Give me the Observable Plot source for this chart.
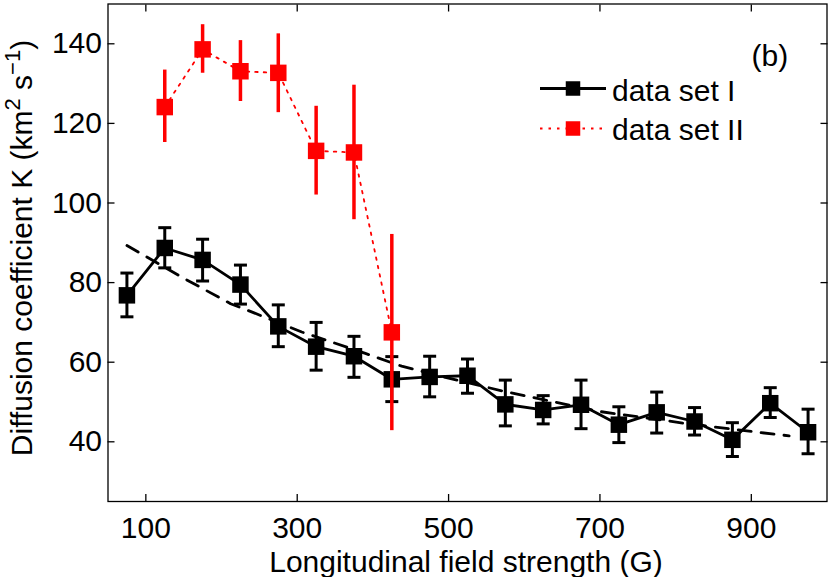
<!DOCTYPE html>
<html><head><meta charset="utf-8">
<script src="https://cdn.jsdelivr.net/npm/d3@7"></script>
<script src="https://cdn.jsdelivr.net/npm/@observablehq/plot@0.6"></script>
<style>body{margin:0;background:#fff;} svg{display:block;}</style>
</head><body><div id="chart"></div>
<script>
// data set I
const fieldI = [75,125,175,225,275,325,375,425,475,525,575,625,675,725,775,825,875,925,975];
const kI   = [76.8,88.7,85.7,79.5,69.0,63.9,61.5,55.7,56.3,56.6,49.4,48.0,49.3,44.3,47.4,45.1,40.5,49.7,42.4];
const kIlo = [71.4,83.7,80.4,74.6,63.9,58.0,56.2,50.1,51.3,52.2,44.0,44.5,43.3,39.8,42.2,41.7,36.3,46.1,37.0];
const kIhi = [82.4,93.8,90.9,84.4,74.4,70.0,66.5,61.4,61.5,60.8,55.5,51.6,55.5,48.8,52.5,48.6,44.8,53.6,48.2];
// data set II
const fieldII = [125,175,225,275,325,375,425];
const kII   = [124.1,138.6,133.1,132.7,113.1,112.7,67.5];
const kIIlo = [115.2,132.6,125.5,122.7,102.0,95.8,42.8];
const kIIhi = [133.4,144.8,140.8,142.5,124.3,129.6,92.1];
// dashed fit curve
const fitField = [75,150,212,243,306,390,438,500,575,700,810,913,950];
const fitK     = [89.3,81.1,74.7,72.4,67.6,62.2,59.0,56.0,52.6,47.6,44.7,42.3,41.5];
// ticks
const xTicks = [100,300,500,700,900];
const yTicks = [40,60,80,100,120,140];

const dataI = fieldI.map((f,i)=>({f, k:kI[i], lo:kIlo[i], hi:kIhi[i]}));
const dataII = fieldII.map((f,i)=>({f, k:kII[i], lo:kIIlo[i], hi:kIIhi[i]}));
const fit = fitField.map((f,i)=>({f, k:fitK[i]}));

const capSymbol = { draw(ctx, size){ const r = Math.sqrt(size/Math.PI); ctx.moveTo(-r,0); ctx.lineTo(r,0); } };
const FONT = "'Liberation Sans', Arial, Helvetica, sans-serif";
const FS = 30;
const RED = "#ff0000";

const svg = Plot.plot({
  width: 830, height: 577,
  marginLeft: 107.5, marginRight: 3.5, marginTop: 3.5, marginBottom: 76,
  style: {fontFamily: FONT, fontSize: FS + "px", color: "black", background: "white", overflow: "visible"},
  x: {domain: [50, 1000]},
  y: {domain: [25, 150]},
  marks: [
    Plot.axisX(xTicks, {anchor: "bottom", tickSize: -7, tickPadding: 22, label: null, fontSize: FS, strokeWidth: 1.3}),
    Plot.axisX(xTicks, {anchor: "top", tickSize: -7, tickFormat: () => "", label: null, strokeWidth: 1.3}),
    Plot.axisY(yTicks, {anchor: "left", tickSize: -7, tickPadding: 13, label: null, fontSize: FS, strokeWidth: 1.3}),
    Plot.axisY(yTicks, {anchor: "right", tickSize: -7, tickFormat: () => "", label: null, strokeWidth: 1.3}),
    Plot.frame({stroke: "black", strokeWidth: 1.3}),
    Plot.line(fit, {x: "f", y: "k", stroke: "black", strokeWidth: 2.8, strokeDasharray: "13,10"}),
    Plot.line(dataI, {x: "f", y: "k", stroke: "black", strokeWidth: 2.8}),
    Plot.ruleX(dataI, {x: "f", y1: "lo", y2: "hi", stroke: "black", strokeWidth: 3}),
    Plot.dot(dataI, {x: "f", y: "lo", symbol: capSymbol, r: 6.5, stroke: "black", strokeWidth: 3, fill: "none"}),
    Plot.dot(dataI, {x: "f", y: "hi", symbol: capSymbol, r: 6.5, stroke: "black", strokeWidth: 3, fill: "none"}),
    Plot.dot(dataI, {x: "f", y: "k", symbol: "square", r: 9.3, fill: "black", stroke: "none"}),
    Plot.line(dataII, {x: "f", y: "k", stroke: RED, strokeWidth: 1.8, strokeDasharray: "2.5,6"}),
    Plot.ruleX(dataII, {x: "f", y1: "lo", y2: "hi", stroke: RED, strokeWidth: 3.5}),
    Plot.dot(dataII, {x: "f", y: "k", symbol: "square", r: 9.3, fill: RED, stroke: "none"})
  ]
});

const s = d3.select(svg);
// axis labels
s.append("text").attr("x", 466).attr("y", 571.5).attr("text-anchor", "middle")
  .attr("fill", "black").style("font-size", FS + "px").style("font-family", FONT)
  .text("Longitudinal field strength (G)");
const yl = s.append("text").attr("transform", "translate(32,248) rotate(-90)")
  .attr("text-anchor", "middle").attr("fill", "black")
  .style("font-size", FS + "px").style("font-family", FONT);
yl.append("tspan").text("Diffusion coefficient K (km");
yl.append("tspan").attr("dy", -12).style("font-size", "22px").text("2");
yl.append("tspan").attr("dy", 12).text(" s");
yl.append("tspan").attr("dy", -12).style("font-size", "22px").text("\u22121");
yl.append("tspan").attr("dy", 12).text(")");
// panel tag
s.append("text").attr("x", 751.5).attr("y", 65.5).attr("text-anchor", "start").attr("fill", "black")
  .style("font-size", FS + "px").style("font-family", FONT).text("(b)");
// legend
const lg = s.append("g").attr("text-anchor", "start").style("font-family", FONT).style("font-size", FS + "px");
lg.append("line").attr("x1", 540).attr("x2", 606).attr("y1", 88.5).attr("y2", 88.5)
  .attr("stroke", "black").attr("stroke-width", 3);
lg.append("rect").attr("x", 573 - 7.25).attr("y", 88.5 - 7.25).attr("width", 14.5).attr("height", 14.5).attr("fill", "black");
lg.append("text").attr("x", 612).attr("y", 100.5).attr("fill", "black").text("data set I");
lg.append("line").attr("x1", 540).attr("x2", 606).attr("y1", 128.5).attr("y2", 128.5)
  .attr("stroke", RED).attr("stroke-width", 1.8).attr("stroke-dasharray", "2.5,6");
lg.append("rect").attr("x", 573 - 7.25).attr("y", 128.5 - 7.25).attr("width", 14.5).attr("height", 14.5).attr("fill", RED);
lg.append("text").attr("x", 612).attr("y", 139.5).attr("fill", "black").text("data set II");

document.getElementById("chart").appendChild(svg);
</script>
</body></html>
